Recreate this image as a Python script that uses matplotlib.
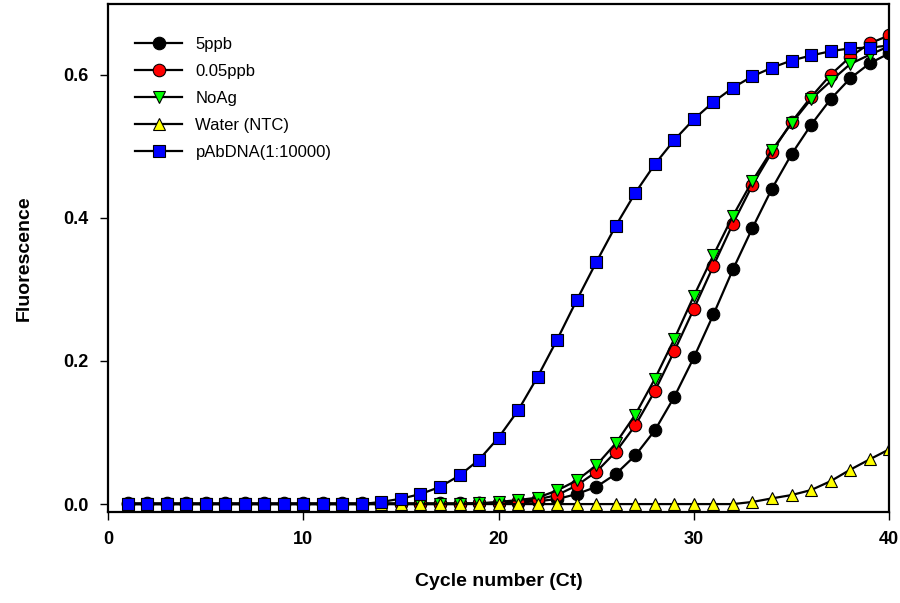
import matplotlib
matplotlib.use("Agg")
import matplotlib.pyplot as plt
import numpy as np

plt.rcParams['font.family'] = ['Liberation Sans', 'DejaVu Sans']

cycles = np.arange(1, 41)

ppb5 = [0.001] * 20 + [0.002, 0.004, 0.007, 0.014, 0.024, 0.042, 0.068, 0.103, 0.150, 0.205,
                       0.265, 0.328, 0.386, 0.441, 0.489, 0.530, 0.566, 0.595, 0.616, 0.630]
ppb005 = [0.0005] * 18 + [0.001, 0.002, 0.004, 0.0066, 0.0126, 0.026, 0.045, 0.073, 0.110, 0.158, 0.214, 0.273,
                          0.333, 0.392, 0.446, 0.492, 0.534, 0.569, 0.600, 0.625, 0.644, 0.655]
noag = [0.0] * 18 + [0.001, 0.003, 0.0056, 0.009, 0.019, 0.033, 0.054, 0.085, 0.125, 0.175, 0.231, 0.291,
                     0.348, 0.403, 0.452, 0.495, 0.532, 0.566, 0.591, 0.615, 0.628, 0.640]
water = [0.0] * 32 + [0.003, 0.008, 0.0126, 0.0196, 0.032, 0.048, 0.0625, 0.0765]
pabdna = [0.0] * 13 + [0.003, 0.0075, 0.014, 0.024, 0.040, 0.062, 0.093, 0.131, 0.178, 0.230, 0.285,
                       0.338, 0.389, 0.435, 0.475, 0.509, 0.538, 0.562, 0.582, 0.598, 0.610,
                       0.620, 0.627, 0.633, 0.637, 0.638, 0.641]

series = [
    ("5ppb", ppb5, 'o', 'black'),
    ("0.05ppb", ppb005, 'o', 'red'),
    ("NoAg", noag, 'v', '#00ff00'),
    ("Water (NTC)", water, '^', 'yellow'),
    ("pAbDNA(1:10000)", pabdna, 's', 'blue'),
]

fig = plt.figure(figsize=(9, 6.03), dpi=100)
ax = fig.add_axes([0.12, 0.151, 0.868, 0.8424])

for label, values, marker, color in series:
    ms = 9 if marker != 's' else 8.5
    ax.plot(cycles, values, color='black', linewidth=1.6, marker=marker,
            markersize=ms, markerfacecolor=color, markeredgecolor='black',
            markeredgewidth=0.8, label=label)

ax.set_xlim(0, 40)
ax.set_ylim(-0.011, 0.699)
ax.set_xticks([0, 10, 20, 30, 40])
ax.set_yticks([0.0, 0.2, 0.4, 0.6])
ax.set_yticklabels(['0.0', '0.2', '0.4', '0.6'])

for side in ['left', 'bottom', 'right', 'top']:
    ax.spines[side].set_linewidth(1.6)

ax.tick_params(direction='out', length=6, width=1, labelsize=13, pad=8)
for lab in ax.get_xticklabels() + ax.get_yticklabels():
    lab.set_fontweight('bold')

ax.set_xlabel("Cycle number (Ct)", fontsize=14, fontweight='bold', labelpad=18)
ax.set_ylabel("Fluorescence", fontsize=14, fontweight='bold', labelpad=22)

ax.legend(loc='upper left', frameon=False, fontsize=12, handlelength=2.8,
          labelspacing=0.72, handletextpad=0.8, bbox_to_anchor=(0.016, 0.965))

fig.savefig("out.png", dpi=100)
